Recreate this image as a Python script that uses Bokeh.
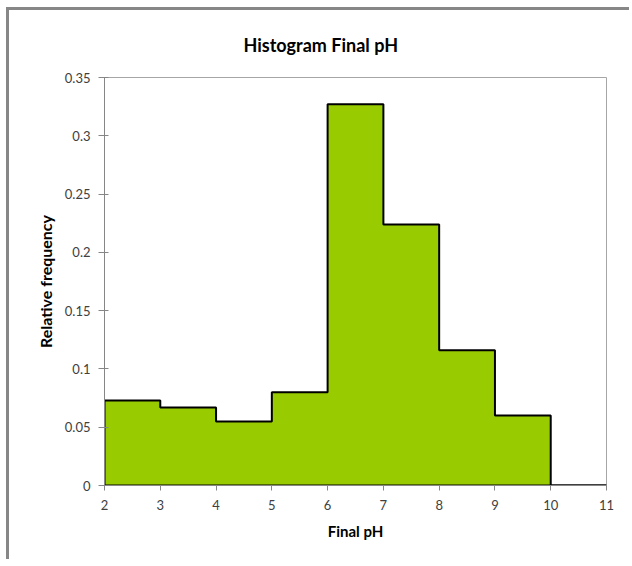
from bokeh.plotting import figure
from bokeh.models import FixedTicker, Range1d
from bokeh.embed import file_html
from bokeh.resources import INLINE

# Data
bin_edges = [2, 3, 4, 5, 6, 7, 8, 9, 10, 11]
rel_freq = [0.073, 0.067, 0.055, 0.080, 0.327, 0.224, 0.116, 0.060, 0.0]
y_ticks = [0, 0.05, 0.1, 0.15, 0.2, 0.25, 0.3, 0.35]
y_tick_labels = ["0", "0.05", "0.1", "0.15", "0.2", "0.25", "0.3", "0.35"]
x_ticks = [2, 3, 4, 5, 6, 7, 8, 9, 10, 11]

FONT = "Lato"

p = figure(width=623, height=552, output_backend="svg", toolbar_location=None,
           x_range=Range1d(2, 11), y_range=Range1d(0, 0.35),
           min_border_left=95, min_border_right=26, min_border_top=67, min_border_bottom=77)

p.styles = {"border-left": "3px solid #878787", "border-top": "3px solid #878787",
            "margin-left": "6px", "margin-top": "7px"}

p.title.text = "Histogram Final pH"
p.title.align = "left"
p.title.vertical_align = "middle"
p.title.offset = 139
p.title.standoff = 42
p.title.text_font = FONT
p.title.text_font_size = "18px"
p.title.text_font_style = "bold"
p.title.text_color = "#000000"

lefts = bin_edges[:-1]
rights = bin_edges[1:]

# step outline
xs = [bin_edges[0]]
ys = [0]
for l, r, v in zip(lefts, rights, rel_freq):
    xs += [l, r]
    ys += [v, v]
xs.append(bin_edges[-1])
ys.append(0)
p.patch(xs, ys, fill_color="#99CC00", line_color=None)
p.line(xs, ys, line_color="black", line_width=2)
p.line([bin_edges[0], bin_edges[-1]], [0, 0], line_color="black", line_width=2)

p.xgrid.visible = False
p.ygrid.visible = False
p.outline_line_color = "#a6a6a6"
p.outline_line_width = 1
p.border_fill_color = "white"

p.yaxis.ticker = FixedTicker(ticks=y_ticks)
p.yaxis.major_label_overrides = {t: l for t, l in zip(y_ticks, y_tick_labels)}
p.xaxis.ticker = FixedTicker(ticks=x_ticks)

for ax in (p.xaxis[0], p.yaxis[0]):
    ax.axis_line_color = "#868686"
    ax.major_tick_line_color = "#868686"
    ax.minor_tick_line_color = None
    ax.major_label_text_font = FONT
    ax.major_label_text_font_size = "13px"
    ax.major_label_text_color = "#404040"
    ax.axis_label_text_font = FONT
    ax.axis_label_text_font_style = "bold"
    ax.axis_label_text_color = "#000000"

p.xaxis.axis_label = "Final pH"
p.xaxis.axis_label_text_font_size = "15px"
p.yaxis.axis_label = "Relative frequency"
p.yaxis.axis_label_text_font_size = "16px"

p.xaxis.major_tick_in = 0
p.xaxis.major_tick_out = 5
p.yaxis.major_tick_in = 4
p.yaxis.major_tick_out = 6
p.xaxis.major_label_standoff = 9
p.xaxis.axis_label_standoff = 9
p.yaxis.major_label_standoff = 8
p.yaxis.axis_label_standoff = 7

open("out.html", "w").write(file_html(p, INLINE))
